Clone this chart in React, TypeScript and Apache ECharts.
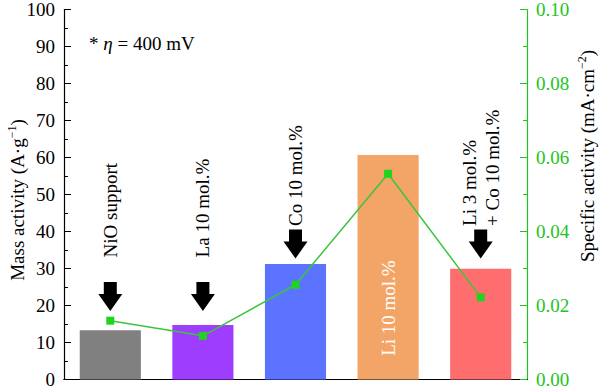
import React, { useEffect, useRef } from 'react';
import * as echarts from 'echarts';

const categories = ['NiO support', 'La 10 mol.%', 'Co 10 mol.%', 'Li 10 mol.%', 'Li 3 mol.%\n+ Co 10 mol.%'];
const massActivity = [13.3, 14.7, 31.2, 60.7, 29.9];
const specificActivity = [0.0159, 0.0118, 0.0256, 0.0556, 0.0222];
const barColors = ['#808080', '#9f3dff', '#5b73ff', '#f2a566', '#ff6e6e'];
const arrowTips: (number | null)[] = [18.5, 18.5, 32.7, null, 32.7];
const labelBase = [33.0, 33.0, 41.5, 6.4, 41.5];
const labelInside = [false, false, false, true, false];

const FONT = "'Liberation Serif', 'Times New Roman', 'DejaVu Serif', serif";
const GREEN = '#22c322';
const FS = 19;

export default function App() {
  const ref = useRef<HTMLDivElement>(null);
  useEffect(() => {
    document.body.style.margin = '0';
    const chart = echarts.init(ref.current!, null, { renderer: 'svg' });
    chart.setOption({
      animation: false,
      textStyle: { fontFamily: FONT },
      grid: { left: 64, right: 73, top: 8, bottom: 8 },
      xAxis: [
        {
          type: 'category',
          data: categories,
          axisLine: { lineStyle: { color: '#000', width: 1.2 } },
          axisTick: { show: false },
          axisLabel: { show: false },
        },
        {
          type: 'category',
          position: 'top',
          data: categories,
          axisLine: { lineStyle: { color: '#000', width: 1.2 } },
          axisTick: { show: false },
          axisLabel: { show: false },
        },
      ],
      yAxis: [
        {
          type: 'value',
          min: 0,
          max: 100,
          interval: 10,
          axisLine: { show: true, lineStyle: { color: '#000', width: 1.2 } },
          axisTick: { show: true, inside: true, length: 7, lineStyle: { color: '#000' } },
          minorTick: { show: true, splitNumber: 2, length: 4, lineStyle: { color: '#000' } },
          splitLine: { show: false },
          axisLabel: { color: '#000', fontSize: FS, fontFamily: FONT, margin: 9 },
        },
        {
          type: 'value',
          min: 0,
          max: 0.1,
          interval: 0.02,
          position: 'right',
          axisLine: { show: true, lineStyle: { color: GREEN, width: 1.2 } },
          axisTick: { show: true, inside: true, length: 7, lineStyle: { color: GREEN } },
          minorTick: { show: true, splitNumber: 2, length: 4, lineStyle: { color: GREEN } },
          splitLine: { show: false },
          axisLabel: {
            color: GREEN,
            fontSize: FS,
            fontFamily: FONT,
            margin: 9,
            formatter: (v: number) => v.toFixed(2),
          },
        },
      ],
      series: [
        {
          type: 'bar',
          data: massActivity.map((v, i) => ({ value: v, itemStyle: { color: barColors[i] } })),
          barCategoryGap: '34%',
        },
        {
          type: 'line',
          yAxisIndex: 1,
          data: specificActivity,
          symbol: 'rect',
          symbolSize: 8,
          lineStyle: { color: '#3cc43c', width: 1.5 },
          itemStyle: { color: '#1ed41e' },
          z: 5,
        },
      ],
    });

    const px = (ci: number, v: number) =>
      chart.convertToPixel({ xAxisIndex: 0, yAxisIndex: 0 }, [ci, v]) as number[];

    const elements: any[] = [];
    categories.forEach((c, i) => {
      const tip = arrowTips[i];
      if (tip !== null) {
        const [cx, ty] = px(i, tip);
        elements.push({
          type: 'polygon',
          shape: {
            points: [
              [cx, ty],
              [cx - 12, ty - 17],
              [cx - 6.5, ty - 17],
              [cx - 6.5, ty - 29],
              [cx + 6.5, ty - 29],
              [cx + 6.5, ty - 17],
              [cx + 12, ty - 17],
            ],
          },
          style: { fill: '#000' },
          z: 10,
        });
      }
      const [lx, ly] = px(i, labelBase[i]);
      elements.push({
        type: 'text',
        x: lx,
        y: ly,
        rotation: Math.PI / 2,
        style: {
          text: c,
          fill: labelInside[i] ? '#fff' : '#000',
          fontSize: FS,
          fontFamily: FONT,
          align: 'left',
          verticalAlign: 'middle',
          lineHeight: 23,
        },
        z: 10,
      });
    });

    elements.push({
      type: 'text',
      x: 89,
      y: 43,
      style: {
        text: '{a|* }{i|η}{a| = 400 mV}',
        verticalAlign: 'middle',
        rich: {
          a: { fontSize: FS, fontFamily: FONT, fill: '#000' },
          i: { fontSize: FS, fontFamily: FONT, fontStyle: 'italic', fill: '#000' },
        },
      },
      z: 10,
    });

    elements.push({
      type: 'text',
      x: 16,
      y: 200,
      rotation: Math.PI / 2,
      style: {
        text: '{a|Mass activity (A·g}{s|−1}{a|)}',
        align: 'center',
        verticalAlign: 'middle',
        rich: {
          a: { fontSize: FS, fontFamily: FONT, fill: '#000', lineHeight: 21, verticalAlign: 'bottom' },
          s: { fontSize: 12, fontFamily: FONT, fill: '#000', lineHeight: 21, verticalAlign: 'top' },
        },
      },
    });

    elements.push({
      type: 'text',
      x: 586,
      y: 156,
      rotation: Math.PI / 2,
      style: {
        text: '{a|Specific activity (mA·cm}{s|−2}{a|)}',
        align: 'center',
        verticalAlign: 'middle',
        rich: {
          a: { fontSize: FS, fontFamily: FONT, fill: '#000', lineHeight: 21, verticalAlign: 'bottom' },
          s: { fontSize: 12, fontFamily: FONT, fill: '#000', lineHeight: 21, verticalAlign: 'top' },
        },
      },
    });

    chart.setOption({ graphic: elements });

    return () => chart.dispose();
  }, []);
  return <div ref={ref} style={{ width: 600, height: 389 }} />;
}
